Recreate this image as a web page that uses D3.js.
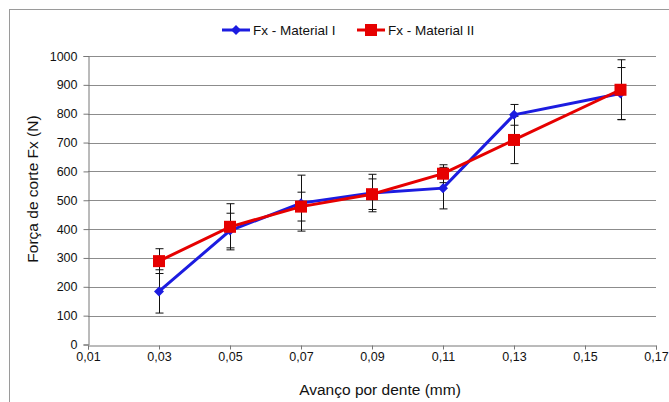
<!DOCTYPE html>
<html>
<head>
<meta charset="utf-8">
<script src="https://cdn.jsdelivr.net/npm/d3@7"></script>
<style>
body{margin:0;background:#fff;}
text{font-family:"Liberation Sans",Arial,sans-serif;fill:#111;}
</style>
</head>
<body>
<script>
//chart data
var avanco = [0.03, 0.05, 0.07, 0.09, 0.11, 0.13, 0.16];
var materialI = [184, 395, 490, 525, 542, 796, 870];
var errI = [75, 60, 97, 65, 72, 36, 90];
var materialII = [289, 408, 478, 521, 592, 709, 883];
var errII = [43, 80, 50, 53, 31, 82, 104];
var xTicks = [0.01, 0.03, 0.05, 0.07, 0.09, 0.11, 0.13, 0.15, 0.17];
var yTicks = [0, 100, 200, 300, 400, 500, 600, 700, 800, 900, 1000];

var width = 669, height = 402;
var svg = d3.select('body').append('svg')
	.attr('width', width)
	.attr('height', height);

//outer chart border
svg.append('rect')
	.attr('x', 9.5).attr('y', 9.5)
	.attr('width', 700).attr('height', 420)
	.attr('fill', 'none')
	.attr('stroke', '#9a9a9a');

var x = d3.scaleLinear().domain([0.01, 0.17]).range([88, 656]);
var y = d3.scaleLinear().domain([0, 1000]).range([344.5, 56]);

//gridlines
svg.append('g').selectAll('line').data(yTicks.slice(1))
	.enter().append('line')
	.attr('x1', x(0.01)).attr('x2', x(0.17))
	.attr('y1', function(d){return Math.round(y(d)) + 0.5})
	.attr('y2', function(d){return Math.round(y(d)) + 0.5})
	.attr('stroke', '#8c8c8c')
	.attr('stroke-width', 1);

//axes
var xAxis = svg.append('g')
	.attr('transform', 'translate(0,' + (Math.round(y(0)) + 0.5) + ')')
	.call(d3.axisBottom(x).tickValues(xTicks).tickSize(4).tickPadding(3)
		.tickFormat(function(d){return d3.format('.2f')(d).replace('.', ',')}));
var yAxis = svg.append('g')
	.attr('transform', 'translate(' + (Math.round(x(0.01)) + 0.5) + ',0)')
	.call(d3.axisLeft(y).tickValues(yTicks).tickSize(5).tickPadding(6)
		.tickFormat(d3.format('d')));
[xAxis, yAxis].forEach(function(a){
	a.select('.domain').attr('stroke', '#777');
	a.selectAll('.tick line').attr('stroke', '#777');
	a.selectAll('.tick text')
		.style('font-family', '"Liberation Sans",Arial,sans-serif')
		.style('font-size', '12.5px')
		.attr('fill', '#111');
});

//axis titles
svg.append('text')
	.attr('x', 380).attr('y', 395)
	.attr('text-anchor', 'middle')
	.style('font-size', '15.5px')
	.text('Avanço por dente (mm)');
svg.append('text')
	.attr('transform', 'translate(38,189) rotate(-90)')
	.attr('text-anchor', 'middle')
	.style('font-size', '15.5px')
	.text('Força de corte Fx (N)');

var series = [
	{name: 'Fx - Material I', values: materialI, err: errI, color: '#1c1ce0', marker: 'diamond'},
	{name: 'Fx - Material II', values: materialII, err: errII, color: '#e60000', marker: 'square'}
];

//error bars
series.forEach(function(s){
	var g = svg.append('g').attr('stroke', '#111').attr('stroke-width', 1);
	avanco.forEach(function(a, i){
		var cx = Math.round(x(a)) + 0.5;
		var lo = y(s.values[i] - s.err[i]), hi = y(s.values[i] + s.err[i]);
		g.append('line').attr('x1', cx).attr('x2', cx).attr('y1', lo).attr('y2', hi);
		g.append('line').attr('x1', cx - 4).attr('x2', cx + 4).attr('y1', lo).attr('y2', lo);
		g.append('line').attr('x1', cx - 4).attr('x2', cx + 4).attr('y1', hi).attr('y2', hi);
	});
});

function drawMarker(g, type, cx, cy, color){
	if(type === 'square'){
		g.append('rect')
			.attr('x', cx - 6).attr('y', cy - 6)
			.attr('width', 12).attr('height', 12)
			.attr('fill', color);
	} else {
		g.append('path')
			.attr('d', 'M' + cx + ',' + (cy - 5) + 'L' + (cx + 5) + ',' + cy + 'L' + cx + ',' + (cy + 5) + 'L' + (cx - 5) + ',' + cy + 'Z')
			.attr('fill', color);
	}
}

//lines and markers
var line = d3.line()
	.x(function(d){return x(d[0])})
	.y(function(d){return y(d[1])});
series.forEach(function(s){
	svg.append('path')
		.datum(avanco.map(function(a, i){return [a, s.values[i]]}))
		.attr('d', line)
		.attr('fill', 'none')
		.attr('stroke', s.color)
		.attr('stroke-width', 3);
	var g = svg.append('g');
	avanco.forEach(function(a, i){
		drawMarker(g, s.marker, x(a), y(s.values[i]), s.color);
	});
});

//legend
var legendX = [222, 357];
series.forEach(function(s, i){
	var g = svg.append('g').attr('transform', 'translate(' + legendX[i] + ',30)');
	g.append('line').attr('x1', 0).attr('x2', 28).attr('y1', 0).attr('y2', 0)
		.attr('stroke', s.color).attr('stroke-width', 3);
	drawMarker(g, s.marker, 14, 0, s.color);
	g.append('text').attr('x', 31).attr('y', 5)
		.style('font-size', '13.5px')
		.text(s.name);
});
</script>
</body>
</html>
